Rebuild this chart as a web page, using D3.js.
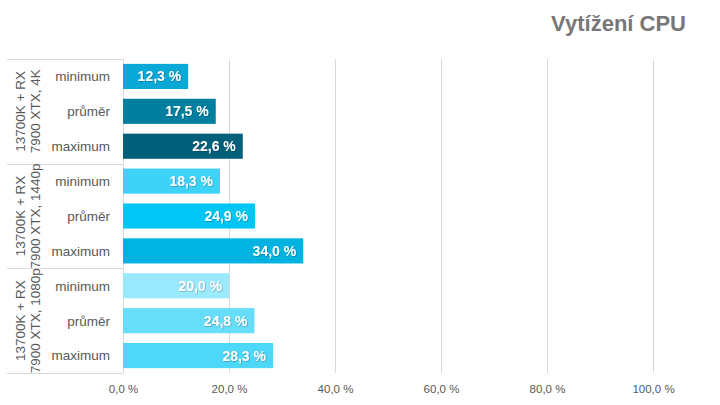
<!DOCTYPE html>
<html><head><meta charset="utf-8">
<script src="https://cdn.jsdelivr.net/npm/d3@7"></script>
<style>body{margin:0;background:#fff}svg{display:block}</style>
</head><body>
<script>
const groups = ["13700K + RX|7900 XTX, 4K", "13700K + RX|7900 XTX, 1440p", "13700K + RX|7900 XTX, 1080p"];
const subcats = ["minimum", "průměr", "maximum"];
const values = [12.3, 17.5, 22.6, 18.3, 24.9, 34.0, 20.0, 24.8, 28.3];
const colors = ["#0aa8d6", "#007f9f", "#005f79", "#3dd3f8", "#00c6f5", "#00b3e0", "#9ae9fc", "#66def9", "#4dd7f9"];
const xTicks = [0, 20, 40, 60, 80, 100];
const title = "Vytížení CPU";

const FONT = "'Liberation Sans', Arial, sans-serif";
const W = 720, H = 405;
const svg = d3.select("body").append("svg").attr("width", W).attr("height", H);
const fmt = v => v.toFixed(1).replace(".", ",") + " %";

const x = d3.scaleLinear().domain([0, 100]).range([123, 653]);
const rows = values.map((v, i) => ({i, v, g: Math.floor(i / 3), s: subcats[i % 3], c: colors[i]}));
const y = d3.scaleBand().domain(d3.range(values.length)).range([59, 373]).paddingInner(0.28).paddingOuter(0.14);

// grid
svg.append("g").attr("transform", "translate(0,373)")
  .call(d3.axisBottom(x).tickValues(xTicks).tickSize(-314).tickFormat(fmt))
  .call(g => g.select(".domain").remove())
  .call(g => g.selectAll(".tick line").attr("stroke", "#d9d9d9"))
  .call(g => g.selectAll(".tick text").attr("fill", "#595959").attr("font-family", FONT).attr("font-size", 11.5).attr("dy", "1.45em"));

// category axis frame
const frame = svg.append("g").attr("stroke", "#d9d9d9").attr("fill", "none");
frame.append("line").attr("x1", 123.5).attr("x2", 123.5).attr("y1", 59).attr("y2", 373);
[0, 1, 2, 3].forEach(k => {
  const yy = Math.round(59 + k * 3 * (314 / 9)) + 0.5;
  frame.append("line").attr("x1", 7).attr("x2", 123).attr("y1", yy).attr("y2", yy);
});

// bars
svg.append("g").selectAll("rect").data(rows).join("rect")
  .attr("x", x(0)).attr("y", d => y(d.i)).attr("width", d => x(d.v) - x(0)).attr("height", y.bandwidth())
  .attr("fill", d => d.c);

// labels inside bars
const defs = svg.append("defs");
defs.append("filter").attr("id", "sh").append("feDropShadow")
  .attr("dx", 0.6).attr("dy", 0.6).attr("stdDeviation", 0.6).attr("flood-color", "#000").attr("flood-opacity", 0.35);
svg.append("g").selectAll("text").data(rows).join("text")
  .attr("x", d => x(d.v) - 7).attr("y", d => y(d.i) + y.bandwidth() / 2)
  .attr("dy", "0.36em").attr("text-anchor", "end")
  .attr("fill", "#fff").attr("font-weight", "bold").attr("font-size", 14)
  .attr("font-family", FONT).attr("filter", "url(#sh)")
  .text(d => fmt(d.v));

// subcategory labels
svg.append("g").selectAll("text").data(rows).join("text")
  .attr("x", 110).attr("y", d => y(d.i) + y.bandwidth() / 2).attr("dy", "0.36em")
  .attr("text-anchor", "end").attr("fill", "#595959").attr("font-size", 13.5)
  .attr("font-family", FONT)
  .text(d => d.s);

// group labels (rotated)
groups.forEach((gname, k) => {
  const cy = 59 + (k * 3 + 1.5) * (314 / 9);
  const lines = gname.split("|");
  const t = svg.append("text").attr("transform", `translate(24.5,${cy}) rotate(-90)`)
    .attr("text-anchor", "middle").attr("fill", "#595959").attr("font-size", 13.5)
    .attr("font-family", FONT);
  lines.forEach((l, j) => t.append("tspan").attr("x", 0).attr("y", j * 15.5).text(l));
});

// title
svg.append("text").attr("x", 686).attr("y", 31).attr("text-anchor", "end")
  .attr("fill", "#777").attr("font-weight", "bold").attr("font-size", 22)
  .attr("font-family", FONT).text(title);
</script>
</body></html>
